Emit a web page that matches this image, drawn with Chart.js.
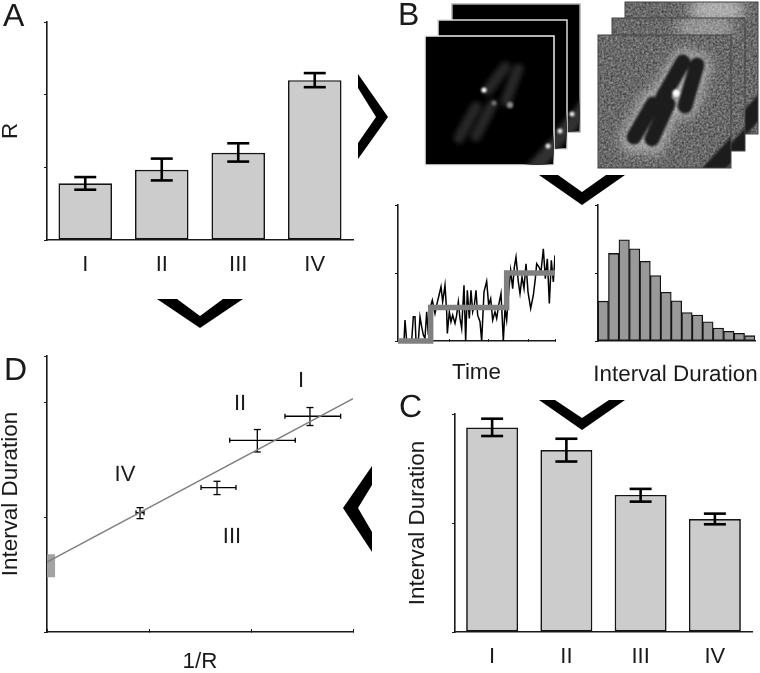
<!DOCTYPE html>
<html><head><meta charset="utf-8">
<script src="https://cdn.jsdelivr.net/npm/chart.js@4"></script>
<style>
html,body{margin:0;padding:0;background:#fff;width:760px;height:673px;overflow:hidden}
#stage{position:relative;width:760px;height:673px;font-family:'Liberation Sans',Arial,sans-serif;color:#1a1a1a;text-rendering:geometricPrecision}
canvas{position:absolute}
svg.ov{position:absolute;left:0;top:0}
.letter{position:absolute;font-size:32px;line-height:1}
.lab{position:absolute;font-size:22px;line-height:1;transform:translate(-50%,-50%);white-space:nowrap}
</style></head><body>
<div id="stage">
<canvas id="cA"></canvas><canvas id="cC"></canvas><canvas id="cD"></canvas><canvas id="cT"></canvas><canvas id="cH"></canvas>
<svg class="ov" width="760" height="673" viewBox="0 0 760 673">
<defs>
<filter id="b3" x="-60%" y="-60%" width="220%" height="220%"><feGaussianBlur stdDeviation="2.6"/></filter>
<filter id="b1" x="-60%" y="-60%" width="220%" height="220%"><feGaussianBlur stdDeviation="1"/></filter>
<filter id="b6" x="-60%" y="-60%" width="220%" height="220%"><feGaussianBlur stdDeviation="6"/></filter>
<filter id="noise" x="0" y="0" width="100%" height="100%" color-interpolation-filters="sRGB"><feTurbulence type="fractalNoise" baseFrequency="0.45" numOctaves="2" seed="4"/><feColorMatrix type="matrix" values="0.5 0 0 0 0.16 0.5 0 0 0 0.16 0.5 0 0 0 0.16 0 0 0 0 1"/><feGaussianBlur stdDeviation="0.6"/></filter>
</defs>
<!-- fluorescence frames -->
<rect x="452" y="4" width="128" height="128" fill="#000" stroke="#aaa" stroke-width="1.5"/>
<svg x="452" y="4" width="128" height="128" viewBox="452 4 128 128"><line x1="560" y1="140" x2="590" y2="100" stroke="#333" stroke-width="14" filter="url(#b3)"/><circle cx="572" cy="114" r="2.5" fill="#eee" filter="url(#b1)"/></svg>
<rect x="438" y="20" width="129" height="129" fill="#000" stroke="#ddd" stroke-width="1.5"/>
<svg x="438" y="20" width="129" height="129" viewBox="438 20 129 129"><line x1="545" y1="155" x2="580" y2="112" stroke="#333" stroke-width="14" filter="url(#b3)"/><circle cx="560" cy="131" r="2.5" fill="#eee" filter="url(#b1)"/></svg>
<rect x="425" y="36" width="129" height="129" fill="#000" stroke="#eee" stroke-width="1.5"/>
<svg x="425" y="36" width="129" height="129" viewBox="425 36 129 129">
<g stroke="#262626" stroke-width="11" stroke-linecap="round" filter="url(#b3)">
<line x1="505" y1="67" x2="488" y2="90"/><line x1="518" y1="69" x2="506" y2="101"/><line x1="476" y1="107" x2="459" y2="138"/><line x1="492" y1="105" x2="476" y2="136"/></g>
<line x1="530" y1="172" x2="565" y2="135" stroke="#333" stroke-width="14" filter="url(#b3)"/>
<circle cx="484" cy="90" r="2.6" fill="#fff" filter="url(#b1)"/><circle cx="510" cy="105" r="3.2" fill="#8a8a8a" filter="url(#b1)"/><circle cx="494" cy="103" r="2.5" fill="#777" filter="url(#b1)"/><circle cx="548" cy="146" r="2.5" fill="#eee" filter="url(#b1)"/>
</svg>
<!-- phase-contrast frames -->
<svg x="625" y="2" width="133" height="132" viewBox="625 2 133 132"><rect x="625" y="2" width="133" height="132" filter="url(#noise)"/><ellipse cx="717" cy="10" rx="28" ry="16" fill="#fff" opacity=".45" filter="url(#b6)"/><line x1="725" y1="145" x2="770" y2="95" stroke="#1c1c1c" stroke-width="18" filter="url(#b1)"/></svg>
<rect x="625" y="2" width="133" height="132" fill="none" stroke="#444" stroke-width="1"/>
<svg x="612" y="18" width="133" height="133" viewBox="612 18 133 133"><rect x="612" y="18" width="133" height="133" filter="url(#noise)"/><ellipse cx="705" cy="28" rx="30" ry="14" fill="#fff" opacity=".3" filter="url(#b6)"/><line x1="725" y1="163" x2="760" y2="125" stroke="#1c1c1c" stroke-width="18" filter="url(#b1)"/></svg>
<rect x="612" y="18" width="133" height="133" fill="none" stroke="#444" stroke-width="1"/>
<svg x="598" y="35" width="133" height="133" viewBox="598 35 133 133"><rect x="598" y="35" width="133" height="133" filter="url(#noise)"/>
<g stroke="#e8e8e8" stroke-width="26" stroke-linecap="round" opacity=".5" filter="url(#b6)"><line x1="685" y1="62" x2="663" y2="97"/><line x1="698" y1="65" x2="685" y2="105"/><line x1="653" y1="103" x2="633" y2="140"/><line x1="668" y1="103" x2="652" y2="142"/></g>
<line x1="708" y1="175" x2="745" y2="135" stroke="#1c1c1c" stroke-width="18" filter="url(#b1)"/>
<g stroke="#1b1b1b" stroke-width="15" stroke-linecap="round" filter="url(#b1)"><line x1="683" y1="62" x2="663" y2="97"/><line x1="697" y1="65" x2="685" y2="106"/><line x1="653" y1="104" x2="634" y2="137"/><line x1="668" y1="104" x2="652" y2="139"/></g>
<circle cx="676" cy="93" r="3.5" fill="#fff" filter="url(#b1)"/>
</svg>
<rect x="598" y="35" width="133" height="133" fill="none" stroke="#444" stroke-width="1"/>
<!-- chevrons -->
<g fill="#000">
<polygon points="358,74 388,117 358,159 358,143 376,117 358,88"/>
<polygon points="157,299 177,299 200,316 223,299 243,299 200,328"/>
<polygon points="539,175 558,175 582,192 606,175 625,175 582,205"/>
<polygon points="539,400 555,400 582,418 609,400 625,400 582,430"/>
<polygon points="343,508 372,466 372,485 358,508 372,532 372,552"/>
</g>
</svg>
<div class="letter" style="left:3px;top:-1px">A</div>
<div class="letter" style="left:398px;top:-2px">B</div>
<div class="letter" style="left:399px;top:390px">C</div>
<div class="letter" style="left:4px;top:353px">D</div>
<div class="lab" style="left:301px;top:380px">I</div>
<div class="lab" style="left:240px;top:403px">II</div>
<div class="lab" style="left:125px;top:474px">IV</div>
<div class="lab" style="left:232px;top:536px">III</div>
<div class="lab" style="left:675.5px;top:373.5px;font-size:22.4px">Interval Duration</div>
</div>
<script>
// ---- Data ----
const categories = ['I','II','III','IV'];
const rValues   = [0.78,0.966,1.2,2.2];
const rLow      = [0.692,0.82,1.079,2.103];
const rHigh     = [0.866,1.12,1.331,2.297];
const durValues = [1.877,1.67,1.258,1.037];
const durLow    = [1.798,1.564,1.196,0.988];
const durHigh   = [1.957,1.773,1.313,1.086];
// panel D: 1/R on x, interval duration on y (order IV, III, II, I)
const invR      = [0.912,1.667,2.062,2.578];
const invRLow   = [0.873,1.51,1.791,2.333];
const invRHigh  = [0.951,1.853,2.434,2.879];
const durD      = [1.042,1.261,1.674,1.884];
const durDLow   = [0.99,1.2,1.572,1.803];
const durDHigh  = [1.086,1.316,1.768,1.96];
const fitX      = [0,3];
const fitY      = [0.611,2.038];
const interceptX= [0.04,0.04];
const interceptY= [0.478,0.679];
// panel B: intensity trace and step fit
const traceT = [24,42,45,50,65,70,75,78,85,90,95,100,105,110,115,120,127,135,140,147,153,158,165,170,172,178,183,188,195,200,205,210,215,222,227,232,238,243,248,253,258,263,270,275,282,290,296,302,308,315,320,326,333,340,345,350,356,362,368,373,378,385,390,396,402,408,414,422,430,436,440,447,453,460,466,472,478,484,490,495];
const traceS = [0,0,63,0,0,73,73,0,0,73,43,18,8,88,18,98,123,83,108,138,163,118,168,88,23,88,58,78,53,78,118,68,38,168,0,153,68,153,88,108,153,78,58,0,148,180,108,128,63,88,68,108,143,0,98,63,148,213,158,223,253,178,143,193,158,233,148,98,138,188,233,223,208,278,188,248,113,243,178,258];
const stepT  = [24,122,122,350,350,495];
const stepS  = [0,0,101,101,205,205];
const timeTicks = [60,178,296,415,495];
const histBins = ['1','2','3','4','5','6','7','8','9','10','11','12','13','14','15'];
const histCounts = [120,264,305,278,240,197,147,121,86,78,58,39,29,23,16];

// ---- Setup ----
Chart.defaults.font.family = "'Liberation Sans', Arial, sans-serif";
Chart.defaults.color = '#1a1a1a';
const INK = '#1a1a1a';
function place(id,l,t,w,h){const c=document.getElementById(id);c.width=w;c.height=h;c.style.left=l+'px';c.style.top=t+'px';c.style.width=w+'px';c.style.height=h+'px';return c;}
function base(pad){return {responsive:false,animation:false,events:[],layout:{padding:pad,autoPadding:false},plugins:{legend:{display:false},tooltip:{enabled:false}}};}
function yAxis(w,max,step,title){return {type:'linear',min:0,max:max,afterFit:s=>{s.width=w;},ticks:{display:false,stepSize:step},
  border:{display:true,color:INK,width:1.6},grid:{drawOnChartArea:false,color:INK,lineWidth:1,tickLength:3},
  title:title?{display:true,text:title,color:INK,font:{size:22.4,lineHeight:1},padding:0}:{display:false}};}
function xTitle(t,size){return {display:true,text:t,color:INK,font:{size:size,lineHeight:1},padding:0};}
function errSets(cats,lo,hi,cap,w){return cats.map((c,i)=>({type:'line',order:0,clip:false,data:[{x:c,y:lo[i]},{x:c,y:hi[i]}],borderColor:'#000',borderWidth:w,
  pointStyle:'line',pointRadius:cap,pointBorderColor:'#000',pointBorderWidth:w,fill:false}));}
function barChart(id,box,pad,yScale,xh,vals,lo,hi,cap){
  return new Chart(place(id,...box),{type:'bar',data:{labels:categories,datasets:[
    {order:1,data:vals,backgroundColor:'#cccccc',borderColor:'#141414',borderWidth:1.7,borderSkipped:false,barPercentage:1,categoryPercentage:0.7},
    ...errSets(categories,lo,hi,cap,2.6)]},
    options:{...base(pad),scales:{y:yScale,x:{afterFit:s=>{s.height=xh;s.paddingLeft=0;s.paddingRight=0;},border:{display:true,color:INK,width:1.6},
      grid:{display:true,drawOnChartArea:false,drawTicks:false},ticks:{font:{size:22},color:INK,padding:12,maxRotation:0}}}}});
}
barChart('cA',[0,12,360,278],{top:10,right:7},yAxis(47,3,1,'R'),50,rValues,rLow,rHigh,11);
barChart('cC',[407,404,353,269],{top:10,right:8},yAxis(48,2,1,'Interval Duration'),41,durValues,durLow,durHigh,11);

// Panel D
const pt=(x,y)=>x.map((v,i)=>({x:v,y:y[i]}));
const dSets=[
 {data:pt(fitX,fitY),showLine:true,borderColor:'#808080',borderWidth:1.4,pointRadius:0},
 {data:pt(interceptX,interceptY),showLine:true,borderColor:'#a3a3a3',borderWidth:8,pointRadius:0,borderCapStyle:'butt'}];
invR.forEach((x,i)=>{
 dSets.push({data:[{x:x,y:durDLow[i]},{x:x,y:durDHigh[i]}],showLine:true,borderColor:'#000',borderWidth:1.3,pointStyle:'line',pointRadius:3.5,pointBorderColor:'#000',pointBorderWidth:1.3});
 dSets.push({data:[{x:invRLow[i],y:durD[i]},{x:invRHigh[i],y:durD[i]}],showLine:true,borderColor:'#000',borderWidth:1.3,pointStyle:'line',pointRotation:90,pointRadius:2.5,pointBorderColor:'#000',pointBorderWidth:1.3});
});
new Chart(place('cD',0,346,360,327),{type:'scatter',data:{datasets:dSets},options:{...base({top:10,right:7}),scales:{
 y:yAxis(47,2.41,1,'Interval Duration'),
 x:{type:'linear',min:0,max:3,afterFit:s=>{s.height=41;},ticks:{display:false,stepSize:1},border:{display:true,color:INK,width:1.6},
    grid:{drawOnChartArea:false,color:INK,tickLength:-3},title:xTitle('1/R',22.4)}}}});

// Panel B trace
new Chart(place('cT',380,195,180,189),{type:'scatter',data:{datasets:[
 {order:1,data:pt(traceT,traceS),showLine:true,borderColor:'#000',borderWidth:1.5,pointRadius:0,tension:0},
 {order:0,data:pt(stepT,stepS),showLine:true,borderColor:'#808080',borderWidth:5.5,pointRadius:0,tension:0,clip:false}]},
 options:{...base({top:10,right:5}),scales:{
 y:yAxis(18,410,205,null),
 x:{type:'linear',min:24,max:495,afterFit:s=>{s.height=43;},afterBuildTicks:s=>{s.ticks=timeTicks.map(v=>({value:v}));},ticks:{display:false},
    border:{display:true,color:INK,width:1.6},grid:{drawOnChartArea:false,color:INK,tickLength:-2},title:xTitle('Time',22.4)}}}});

// Panel B histogram
new Chart(place('cH',570,195,190,189),{type:'bar',data:{labels:histBins,datasets:[
 {data:histCounts,backgroundColor:'#999999',borderColor:'#141414',borderWidth:1.3,borderSkipped:false,barPercentage:1,categoryPercentage:1}]},
 options:{...base({top:10,right:5}),scales:{
 y:yAxis(28,410,205,null),
 x:{afterFit:s=>{s.height=43;},ticks:{display:false},border:{display:true,color:INK,width:1.6},grid:{display:true,drawOnChartArea:false,drawTicks:false}}}}});
</script>
</body></html>
